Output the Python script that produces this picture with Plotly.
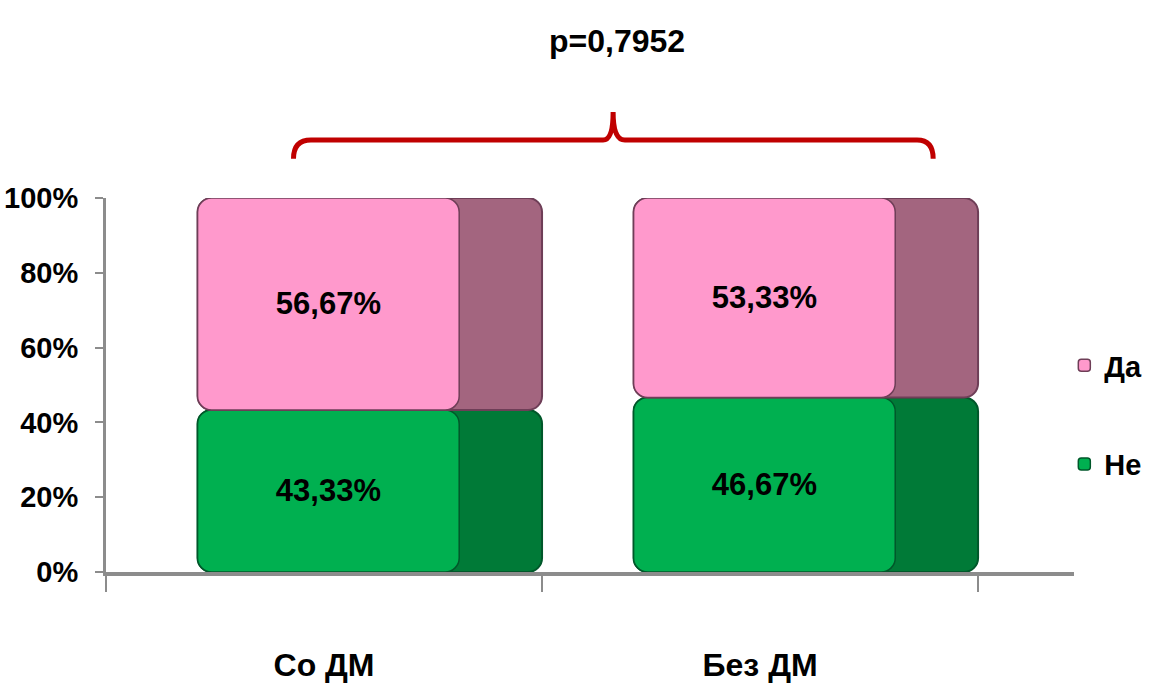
import plotly.graph_objects as go

categories = ["Со ДМ", "Без ДМ"]
ne_values = [43.33, 46.67]
da_values = [56.67, 53.33]
y_ticks = [0, 20, 40, 60, 80, 100]
y_tick_labels = ["0%", "20%", "40%", "60%", "80%", "100%"]
p_text = "p=0,7952"

FONT = "'Liberation Sans', Arial, sans-serif"

pink_front = "#FF99CC"
pink_side = "#A3657F"
pink_edge = "#6E3E57"
green_front = "#00B050"
green_side = "#007A37"
green_edge = "#00572A"

series = [
    ("Не", ne_values, [0] * len(ne_values), green_front, green_side, green_edge),
    ("Да", da_values, ne_values, pink_front, pink_side, pink_edge),
]

fig = go.Figure()
for name, vals, base, front, side, edge in series:
    fig.add_trace(go.Bar(
        x=categories, y=vals, base=base, width=0.79, offset=-0.29,
        marker=dict(color=side, line=dict(color=edge, width=2), cornerradius=14),
        showlegend=False, hoverinfo="skip",
    ))
    fig.add_trace(go.Bar(
        x=categories, y=vals, base=base, width=0.6, offset=-0.29,
        name=name, legendrank=2 if name == "Не" else 1, legendgroup=name,
        marker=dict(color=front, line=dict(color=edge, width=1.5), cornerradius=14),
        text=vals, texttemplate="%{y:.2f}%", textposition="inside",
        insidetextanchor="middle", textangle=0,
        textfont=dict(family=FONT, size=31, color="black", weight="bold"),
    ))

fig.add_shape(
    type="path", xref="x", yref="paper",
    path="M -0.07,1.105 Q -0.07,1.155 -0.03,1.155 L 0.64,1.155 Q 0.663,1.155 0.663,1.23 "
         "Q 0.663,1.155 0.69,1.155 L 1.36,1.155 Q 1.397,1.155 1.397,1.105",
    line=dict(color="#C00000", width=5),
)
fig.add_annotation(
    x=0.672, xref="x", y=1.42, yref="paper", text=p_text, showarrow=False,
    font=dict(family=FONT, size=32, color="black", weight="bold"),
    xanchor="center", yanchor="middle",
)

fig.update_layout(
    width=1156, height=689,
    barmode="overlay",
    separators=", ",
    paper_bgcolor="white", plot_bgcolor="white",
    margin=dict(l=106, r=82, t=198, b=117, autoexpand=False),
    font=dict(family=FONT, color="black", size=31, weight="bold"),
    legend=dict(
        x=0.99, xanchor="left", y=0.42, yanchor="middle",
        font=dict(family=FONT, size=29, color="black", weight="bold"),
        tracegroupgap=58, itemwidth=30, bgcolor="rgba(0,0,0,0)",
    ),
    showlegend=True,
)
fig.update_xaxes(
    type="category", range=[-0.5, 1.72],
    showline=True, linecolor="#8C8C8C", linewidth=4,
    ticks="outside", tickson="boundaries", ticklen=16, tickcolor="#8C8C8C", tickwidth=2,
    tickfont=dict(family=FONT, size=32, color="black", weight="bold"),
    ticklabelstandoff=62, showgrid=False, zeroline=False,
)
fig.update_yaxes(
    range=[0, 100], tickvals=y_ticks, ticktext=y_tick_labels,
    showline=True, linecolor="#8C8C8C", linewidth=3,
    ticks="outside", ticklen=8, tickcolor="#8C8C8C", tickwidth=2,
    tickfont=dict(family=FONT, size=29, color="black", weight="bold"),
    ticklabelstandoff=11, showgrid=False, zeroline=False,
)

fig.write_html("out.html")
